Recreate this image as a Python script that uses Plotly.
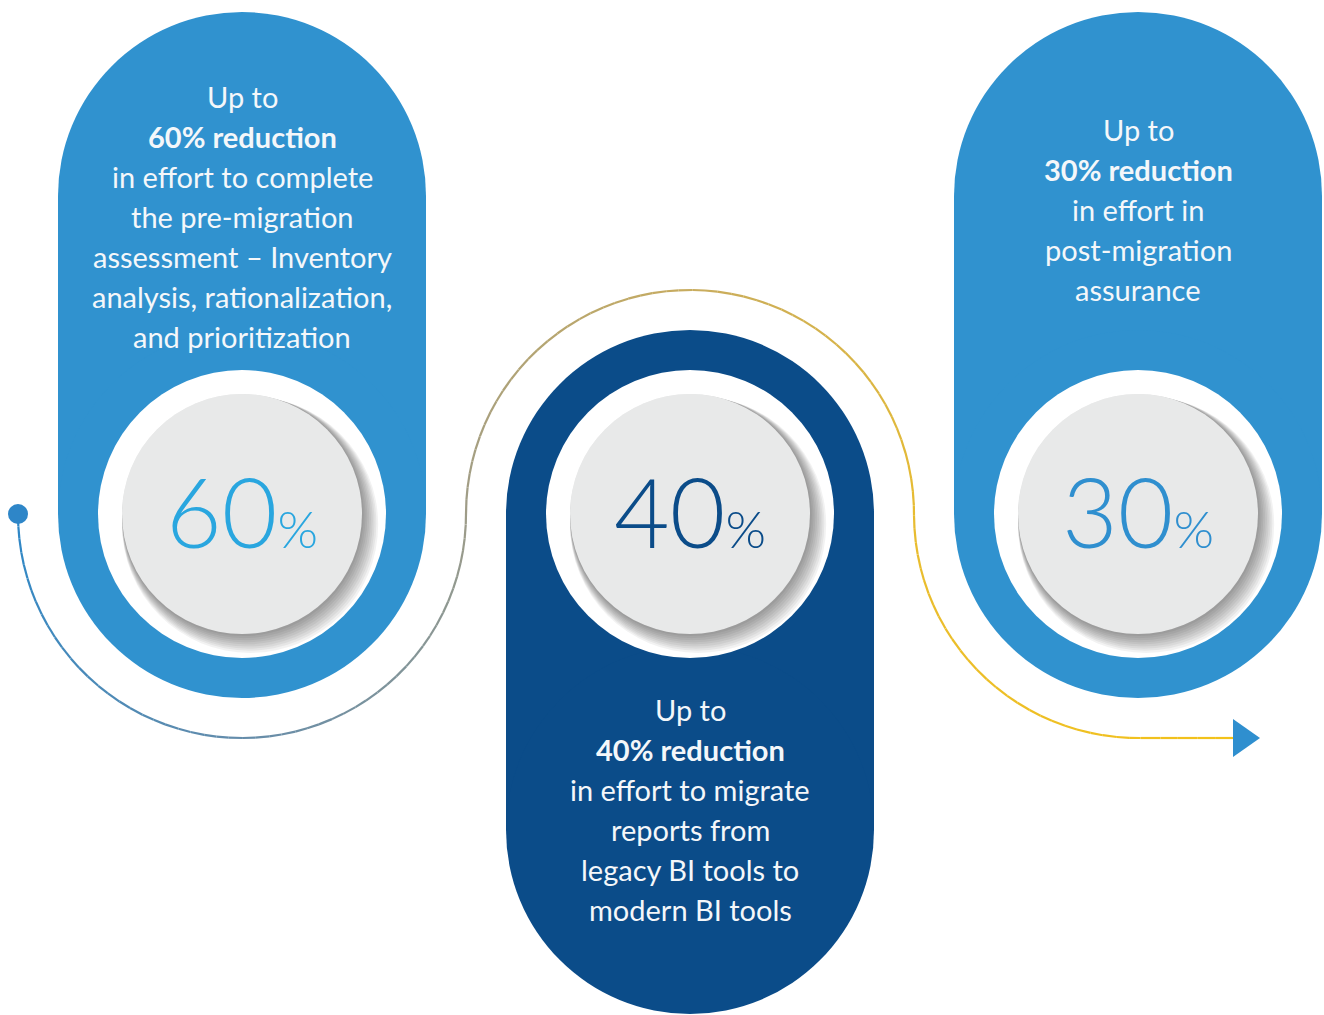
import numpy as np
import plotly.graph_objects as go

# ---------------- data ----------------
percentages = [60, 40, 30]
headline_suffix = "% reduction"
descriptions = [
    ["in effort to complete", "the pre-migration", "assessment – Inventory",
     "analysis, rationalization,", "and prioritization"],
    ["in effort to migrate", "reports from", "legacy BI tools to", "modern BI tools"],
    ["in effort in", "post-migration", "assurance"],
]
pill_colors = ["#3092CF", "#0B4C89", "#3092CF"]
number_colors = ["#29A6DF", "#0B4C89", "#2F8FCF"]

# ---------------- layout geometry ----------------
W, H = 1324, 1015
centers_x = [242, 690, 1138]
circle_y = 514
pill_r = 184
pill_top_cy = [196, 514, 196]
pill_bot_cy = [514, 830, 514]
text_start_y = [96, 709, 129]
line_gap = 40
ring_r = 144
disc_r = 120
path_r = 224

fig = go.Figure()
shapes = []

for i, cx in enumerate(centers_x):
    col = pill_colors[i]
    t, b = pill_top_cy[i], pill_bot_cy[i]
    shapes.append(dict(type="circle", x0=cx - pill_r, x1=cx + pill_r, y0=t - pill_r, y1=t + pill_r,
                       fillcolor=col, line_width=0, layer="below"))
    shapes.append(dict(type="rect", x0=cx - pill_r, x1=cx + pill_r, y0=t, y1=b,
                       fillcolor=col, line_width=0, layer="below"))
    shapes.append(dict(type="circle", x0=cx - pill_r, x1=cx + pill_r, y0=b - pill_r, y1=b + pill_r,
                       fillcolor=col, line_width=0, layer="below"))
    # white ring
    shapes.append(dict(type="circle", x0=cx - ring_r, x1=cx + ring_r, y0=circle_y - ring_r, y1=circle_y + ring_r,
                       fillcolor="white", line_width=0, layer="below"))
    # soft shadow toward bottom-right
    for k in range(10):
        rr = disc_r + 0.9 * k
        ox, oy = 0.9 * k, 1.2 * k
        shapes.append(dict(type="circle", x0=cx + ox - rr, x1=cx + ox + rr,
                           y0=circle_y + oy - rr, y1=circle_y + oy + rr,
                           fillcolor="rgba(0,0,0,0.05)", line_width=0, layer="below"))
    # grey disc
    shapes.append(dict(type="circle", x0=cx - disc_r, x1=cx + disc_r, y0=circle_y - disc_r, y1=circle_y + disc_r,
                       fillcolor="#E8E9E9", line_width=0, layer="below"))

# ---------------- flowing path ----------------
def arc(cx, cy, r, a0, a1, n):
    a = np.linspace(a0, a1, n)
    return cx + r * np.cos(a), cy + r * np.sin(a)

pts_x, pts_y = [], []
for (cx, a0, a1, n) in [(centers_x[0], np.pi, 0, 400), (centers_x[1], np.pi, 2 * np.pi, 400),
                        (centers_x[2], np.pi, np.pi / 2, 200)]:
    x, y = arc(cx, circle_y, path_r, a0, a1, n)
    pts_x.append(x); pts_y.append(y)
arrow_start = 1235
lx = np.linspace(centers_x[2], arrow_start, 40)
pts_x.append(lx); pts_y.append(np.full_like(lx, circle_y + path_r))
px = np.concatenate(pts_x); py = np.concatenate(pts_y)

seg_len = np.hypot(np.diff(px), np.diff(py))
s = np.concatenate([[0], np.cumsum(seg_len)]); s /= s[-1]

stops = [(0.0, (44, 135, 200)), (0.19, (100, 140, 170)), (0.38, (158, 156, 136)),
         (0.57, (200, 172, 94)), (0.76, (232, 188, 48)), (1.0, (243, 194, 26))]

def color_at(t):
    for (t0, c0), (t1, c1) in zip(stops[:-1], stops[1:]):
        if t <= t1:
            f = (t - t0) / (t1 - t0) if t1 > t0 else 0
            c = [int(round(c0[j] + f * (c1[j] - c0[j]))) for j in range(3)]
            return f"rgb({c[0]},{c[1]},{c[2]})"
    return "rgb(%d,%d,%d)" % stops[-1][1]

nseg = 140
idx = np.linspace(0, len(px) - 1, nseg + 1).astype(int)
for a, b in zip(idx[:-1], idx[1:]):
    tm = (s[a] + s[b]) / 2
    fig.add_trace(go.Scatter(x=px[a:b + 1], y=py[a:b + 1], mode="lines",
                             line=dict(color=color_at(tm), width=2.2),
                             hoverinfo="skip", showlegend=False))

# start dot
fig.add_trace(go.Scatter(x=[px[0]], y=[py[0]], mode="markers",
                         marker=dict(size=20, color="#2E86C8"), hoverinfo="skip", showlegend=False))
# arrow head
ay = circle_y + path_r
shapes.append(dict(type="path", path=f"M {arrow_start-2} {ay-19} L {arrow_start+25} {ay} L {arrow_start-2} {ay+19} Z",
                   fillcolor="#2F8FCF", line_width=0))

# ---------------- texts ----------------
annotations = []
body_font = "Lato"
for i, cx in enumerate(centers_x):
    lines = ["Up to", f"<b>{percentages[i]}{headline_suffix}</b>"] + descriptions[i]
    for j, ln in enumerate(lines):
        annotations.append(dict(x=cx, y=text_start_y[i] + j * line_gap, text=ln, showarrow=False,
                                xanchor="center", yanchor="middle",
                                font=dict(family=body_font, size=29, color="#F4F7FA")))
    annotations.append(dict(x=cx, y=circle_y - 4,
                            text=f"{percentages[i]}<span style='font-size:52px'>%</span>",
                            showarrow=False, xanchor="center", yanchor="middle",
                            font=dict(family="Lato", size=96, color=number_colors[i], weight=300)))

fig.update_layout(
    width=W, height=H, margin=dict(l=0, r=0, t=0, b=0),
    paper_bgcolor="white", plot_bgcolor="white",
    xaxis=dict(range=[0, W], visible=False, fixedrange=True),
    yaxis=dict(range=[H, 0], visible=False, fixedrange=True),
    shapes=shapes, annotations=annotations, showlegend=False,
)
fig.write_html("out.html")
